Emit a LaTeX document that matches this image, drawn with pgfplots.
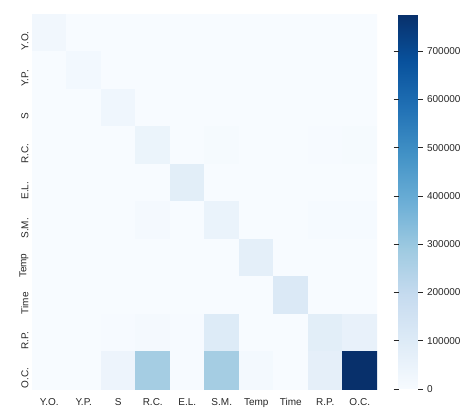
\documentclass[border=0pt]{standalone}
\usepackage{pgfplots}
\pgfplotsset{compat=1.18}
\usepackage{pgfplotstable}
\usepackage{fontspec}
\setmainfont{Liberation Sans}
\definecolor{txt}{HTML}{262626}
\pgfplotsset{colormap={blues}{
  color(0)=(rgb,255:red,247;green,251;blue,255)
  color(1)=(rgb,255:red,222;green,235;blue,247)
  color(2)=(rgb,255:red,198;green,219;blue,239)
  color(3)=(rgb,255:red,158;green,202;blue,225)
  color(4)=(rgb,255:red,107;green,174;blue,214)
  color(5)=(rgb,255:red,66;green,146;blue,198)
  color(6)=(rgb,255:red,33;green,113;blue,181)
  color(7)=(rgb,255:red,8;green,81;blue,156)
  color(8)=(rgb,255:red,8;green,48;blue,107)}}
\pgfplotstableread{
x y c
0 0 22000
1 0 1500
2 0 1000
3 0 1000
4 0 1000
5 0 1000
6 0 1000
7 0 1000
8 0 1500
9 0 1500
0 1 1500
1 1 18000
2 1 1000
3 1 1000
4 1 1000
5 1 1000
6 1 1000
7 1 1000
8 1 1000
9 1 1000
0 2 1000
1 2 1000
2 2 30000
3 2 1000
4 2 1000
5 2 1000
6 2 1000
7 2 1000
8 2 1000
9 2 1000
0 3 1000
1 3 1000
2 3 1500
3 3 45000
4 3 1000
5 3 8000
6 3 1000
7 3 1000
8 3 5000
9 3 8000
0 4 1000
1 4 1000
2 4 1000
3 4 1000
4 4 80000
5 4 1500
6 4 1000
7 4 1000
8 4 1000
9 4 1000
0 5 1000
1 5 1000
2 5 1500
3 5 12000
4 5 1000
5 5 50000
6 5 1000
7 5 1000
8 5 6000
9 5 6000
0 6 1000
1 6 1000
2 6 1000
3 6 1000
4 6 1000
5 6 1500
6 6 75000
7 6 1000
8 6 1000
9 6 1000
0 7 1000
1 7 1000
2 7 1000
3 7 1000
4 7 1000
5 7 1000
6 7 1000
7 7 110000
8 7 1000
9 7 1000
0 8 1000
1 8 1000
2 8 3000
3 8 12000
4 8 3000
5 8 100000
6 8 1500
7 8 1000
8 8 80000
9 8 60000
0 9 1000
1 9 1000
2 9 40000
3 9 275000
4 9 5000
5 9 275000
6 9 15000
7 9 1500
8 9 70000
9 9 777000
}\cm
\begin{document}
\begin{tikzpicture}
\useasboundingbox (-32pt,-21pt) rectangle (433pt,389pt);
\begin{axis}[
  name=main, at={(0,0)}, anchor=south west,
  width=345pt, height=375pt, scale only axis,
  xmin=-0.5, xmax=9.5, ymin=-0.5, ymax=9.5,
  y dir=reverse,
  axis line style={draw=none},
  tick style={draw=none},
  xtick={0,...,9}, ytick={0,...,9},
  xticklabels={Y.O.,Y.P.,S,R.C.,E.L.,S.M.,Temp,Time,R.P.,O.C.},
  yticklabels={Y.O.,Y.P.,S,R.C.,E.L.,S.M.,Temp,Time,R.P.,O.C.},
  ticklabel style={font=\fontsize{10}{12}\selectfont, text=txt},
  xticklabel style={yshift=-5pt, text height=1.6ex, text depth=0.3ex},
  yticklabel style={rotate=90, anchor=south, xshift=-8pt},
  colormap name=blues,
  point meta min=0, point meta max=777000,
  colorbar right,
  colorbar/width=19pt,
  colorbar style={
    at={(parent axis.north east)}, anchor=north west, xshift=13pt,
    axis line style={draw=none},
    ytick={0,100000,...,700000},
    scaled y ticks=false,
    yticklabel style={font=\fontsize{10}{12}\selectfont, text=txt, xshift=1pt,
      /pgf/number format/.cd, fixed, precision=0, 1000 sep={}, assume math mode=true},
    tick align=outside,
    major tick length=5pt,
    ytick style={draw=txt, line width=0.6pt},
  },
]
\addplot[matrix plot*, mesh/cols=10, point meta=explicit, draw=none] table[x=x, y=y, meta=c] {\cm};
\end{axis}
\end{tikzpicture}
\end{document}
